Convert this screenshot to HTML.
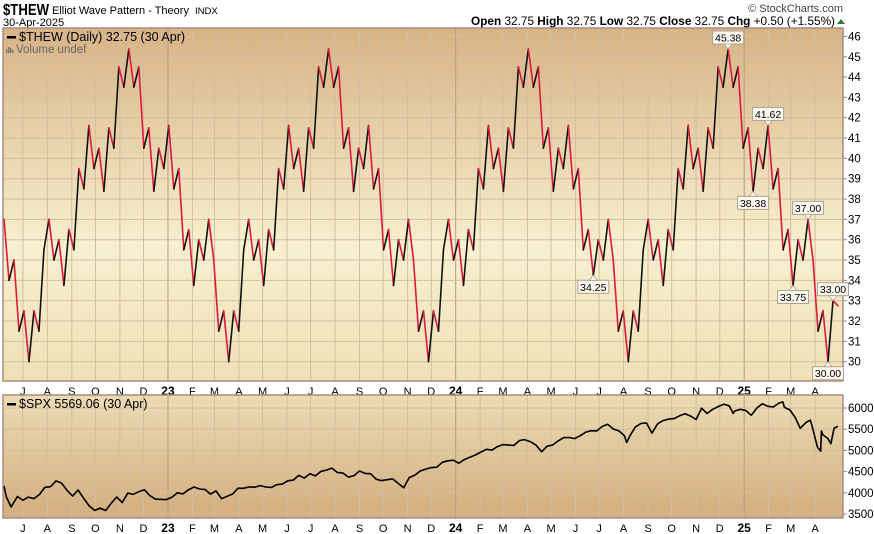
<!DOCTYPE html>
<html><head><meta charset="utf-8"><style>
body{margin:0;background:#fff;width:874px;height:534px;overflow:hidden;font-family:"Liberation Sans",sans-serif}
svg{display:block}
</style></head><body>
<svg id="c" width="874" height="534" xmlns="http://www.w3.org/2000/svg">
<defs>
<linearGradient id="gTop" x1="0" y1="0" x2="0" y2="1">
<stop offset="0" stop-color="#d7b385"/><stop offset="0.62" stop-color="#f7f0cf"/><stop offset="1" stop-color="#efe0b6"/>
</linearGradient>
<linearGradient id="gBot" x1="0" y1="0" x2="0" y2="1">
<stop offset="0" stop-color="#ecdcb3"/><stop offset="1" stop-color="#d2ad7e"/>
</linearGradient>
</defs>
<g>
<text x="3" y="15" font-size="16" font-weight="bold" fill="#000" textLength="46" lengthAdjust="spacingAndGlyphs">$THEW</text>
<text x="52" y="14" font-size="11" fill="#000">Elliot Wave Pattern - Theory <tspan font-size="9.5" dx="3">INDX</tspan></text>
<text x="3" y="26" font-size="11" fill="#000">30-Apr-2025</text>
<text x="843" y="12" font-size="11" fill="#444" text-anchor="end">© StockCharts.com</text>
<text x="835" y="25" font-size="11.8" fill="#000" text-anchor="end"><tspan font-weight="bold">Open</tspan> 32.75 <tspan font-weight="bold">High</tspan> 32.75 <tspan font-weight="bold">Low</tspan> 32.75 <tspan font-weight="bold">Close</tspan> 32.75 <tspan font-weight="bold">Chg</tspan> +0.50 (+1.55%)</text>
<path d="M837 24 L841 19 L845 24 Z" fill="#2e7d32"/>
</g>
<g id="topPanel"></g>
<g id="botPanel"></g>
</svg>
<script>
// ---- data ----
const thewValues = [37,34,35,31.5,32.5,30,
32.5,31.5,35.5,37,35,36,33.75,36.5,35.5,39.5,38.5,41.62,39.5,40.5,38.38,41.5,40.5,44.5,43.5,45.38,
43.5,44.5,40.5,41.5,38.38,40.5,39.5,41.62,38.5,39.5,35.5,36.5,33.75,36,35,37,35,31.5,32.5,30,
32.5,31.5,35.5,37,35,36,33.75,36.5,35.5,39.5,38.5,41.62,39.5,40.5,38.38,41.5,40.5,44.5,43.5,45.38,
43.5,44.5,40.5,41.5,38.38,40.5,39.5,41.62,38.5,39.5,35.5,36.5,33.75,36,35,37,35,31.5,32.5,30,
32.5,31.5,35.5,37,35,36,33.75,36.5,35.5,39.5,38.5,41.62,39.5,40.5,38.38,41.5,40.5,44.5,43.5,45.38,
43.5,44.5,40.5,41.5,38.38,40.5,39.5,41.62,38.5,39.5,35.5,36.5,34.25,36,35,37,35,31.5,32.5,30,
32.5,31.5,35.5,37,35,36,33.75,36.5,35.5,39.5,38.5,41.62,39.5,40.5,38.38,41.5,40.5,44.5,43.5,45.38,
43.5,44.5,40.5,41.5,38.38,40.5,39.5,41.62,38.5,39.5,35.5,36.5,33.75,36,35,37,35,31.5,32.5,30,
33,32.75];
const thewLabels = [[145,"45.38",1],[150,"38.38",-1],[153,"41.62",1],[158,"33.75",-1],[161,"37.00",1],[165,"30.00",-1],[166,"33.00",1],[118,"34.25",-1]];
const thewTicks = [30,31,32,33,34,35,36,37,38,39,40,41,42,43,44,45,46];
const spxDates = ["2022-06-07","2022-06-10","2022-06-16","2022-06-24","2022-07-01","2022-07-08","2022-07-15","2022-07-22","2022-07-29","2022-08-05","2022-08-12","2022-08-19","2022-08-26","2022-09-02","2022-09-09","2022-09-16","2022-09-23","2022-09-30","2022-10-07","2022-10-14","2022-10-21","2022-10-28","2022-11-04","2022-11-11","2022-11-18","2022-11-25","2022-12-02","2022-12-09","2022-12-16","2022-12-23","2022-12-30",
"2023-01-06","2023-01-13","2023-01-20","2023-01-27","2023-02-03","2023-02-10","2023-02-17","2023-02-24","2023-03-03","2023-03-10","2023-03-17","2023-03-24","2023-03-31","2023-04-07","2023-04-14","2023-04-21","2023-04-28","2023-05-05","2023-05-12","2023-05-19","2023-05-26","2023-06-02","2023-06-09","2023-06-16","2023-06-23","2023-06-30","2023-07-07","2023-07-14","2023-07-21","2023-07-28","2023-08-04","2023-08-11","2023-08-18","2023-08-25","2023-09-01","2023-09-08","2023-09-15","2023-09-22","2023-09-29","2023-10-06","2023-10-13","2023-10-20","2023-10-27","2023-11-03","2023-11-10","2023-11-17","2023-11-24","2023-12-01","2023-12-08","2023-12-15","2023-12-22","2023-12-29",
"2024-01-05","2024-01-12","2024-01-19","2024-01-26","2024-02-02","2024-02-09","2024-02-16","2024-02-23","2024-03-01","2024-03-08","2024-03-15","2024-03-22","2024-03-28","2024-04-05","2024-04-12","2024-04-19","2024-04-26","2024-05-03","2024-05-10","2024-05-17","2024-05-24","2024-05-31","2024-06-07","2024-06-14","2024-06-21","2024-06-28","2024-07-05","2024-07-12","2024-07-19","2024-07-26","2024-08-02","2024-08-05","2024-08-09","2024-08-16","2024-08-23","2024-08-30","2024-09-06","2024-09-13","2024-09-20","2024-09-27","2024-10-04","2024-10-11","2024-10-18","2024-10-25","2024-11-01","2024-11-08","2024-11-15","2024-11-22","2024-11-29","2024-12-06","2024-12-13","2024-12-18","2024-12-20","2024-12-27",
"2025-01-03","2025-01-10","2025-01-17","2025-01-24","2025-01-31","2025-02-07","2025-02-14","2025-02-19","2025-02-21","2025-02-28","2025-03-07","2025-03-13","2025-03-21","2025-03-26","2025-03-28","2025-04-04","2025-04-08","2025-04-09","2025-04-11","2025-04-17","2025-04-21","2025-04-25","2025-04-30"];
const spxValues = [4160,3901,3667,3912,3825,3899,3863,3962,4130,4145,4280,4228,4057,3924,4067,3873,3693,3586,3639,3583,3752,3901,3771,3993,3965,4026,4072,3934,3852,3845,3840,
3895,3999,3973,4071,4136,4090,4079,3970,4045,3862,3917,3971,4109,4105,4138,4133,4169,4136,4124,4191,4205,4282,4299,4410,4348,4450,4399,4505,4536,4582,4478,4464,4370,4406,4515,4457,4450,4320,4288,4308,4327,4224,4117,4358,4415,4514,4559,4595,4604,4719,4754,4770,
4697,4783,4840,4891,4959,5027,5006,5089,5137,5124,5117,5234,5254,5204,5123,4967,5100,5128,5223,5303,5305,5278,5347,5431,5465,5460,5567,5615,5505,5459,5346,5186,5344,5554,5634,5648,5408,5626,5703,5738,5751,5815,5864,5808,5728,5995,5870,5969,6032,6090,6051,5872,5930,5970,
5942,5827,5997,6101,6040,6026,6115,6144,6013,5955,5770,5522,5667,5712,5581,5074,4982,5457,5363,5283,5158,5525,5569];
const spxTicks = [3500,4000,4500,5000,5500,6000];
const monthLabels = ["J","A","S","O","N","D","23","F","M","A","M","J","J","A","S","O","N","D","24","F","M","A","M","J","J","A","S","O","N","D","25","F","M","A"];

// ---- layout ----
const NS="http://www.w3.org/2000/svg";
const X0=4, X1=843, XL=838;
const T0=Date.UTC(2022,5,7), T1=Date.UTC(2025,3,30);
function xDate(t){return X0+(t-T0)/(T1-T0)*(XL-X0);}
function xIdx(i){return X0+i*(XL-X0)/(thewValues.length-1);}
const TOPP={y0:28,y1:381}, BOTP={y0:395,y1:518};
function yT(v){return 361.7-(v-30)*20.33;}
function yB(v){return 408-(v-6000)*0.0424;}
function mk(tag,attrs,parent){const e=document.createElementNS(NS,tag);for(const k in attrs)e.setAttribute(k,attrs[k]);parent.appendChild(e);return e;}
const gTopP=document.getElementById('topPanel'), gBotP=document.getElementById('botPanel');

const months=[];
for(let k=0;k<monthLabels.length;k++){const t=Date.UTC(2022,6+k,1);months.push({t,lab:monthLabels[k]});}

function panel(g,P,grad,ticks,yf,fmt){
  const bg=mk('rect',{x:X0-1,y:P.y0,width:X1-X0+1,height:P.y1-P.y0,fill:grad},g);
  
  
  for(const m of months){
    const x=xDate(m.t);
    const yr=/\d/.test(m.lab);
    const l=mk('line',{x1:x,x2:x,y1:P.y0,y2:P.y1,stroke:yr?'#b89a80':'#d2bea0','stroke-width':1},g);
    
    
  }
  for(const v of ticks){
    const y=yf(v);
    const l=mk('line',{x1:X0-1,x2:X1,y1:y,y2:y,stroke:'#d2bea0','stroke-width':1},g);
    
    
    const tm=mk('line',{x1:X1,x2:X1+4,y1:y,y2:y,stroke:'#888'},g);
    
    
    const t=mk('text',{x:X1+5,y:y+4,'font-size':11.5,fill:'#000'},g);
    
    
    t.textContent=fmt(v);
  }
  const b=mk('rect',{x:X0-1,y:P.y0,width:X1-X0+1,height:P.y1-P.y0,fill:'none',stroke:'#a88c80','stroke-width':1.5},g);
  
  
  const ly=P.y1+14;
  for(const m of months){
    const x=xDate(m.t);
    const yr=/\d/.test(m.lab);
    const t=mk('text',{x:x,y:ly,'font-size':yr?12:11,'font-weight':yr?'bold':'normal','text-anchor':'middle',fill:'#000'},g);
    
    
    t.textContent=m.lab;
  }
}
panel(gTopP,TOPP,'url(#gTop)',thewTicks,yT,v=>String(v));
panel(gBotP,BOTP,'url(#gBot)',spxTicks,yB,v=>String(v));

for(let i=1;i<thewValues.length;i++){
  const a=thewValues[i-1],b=thewValues[i];
  const s=mk('line',{x1:xIdx(i-1),y1:yT(a),x2:xIdx(i),y2:yT(b),stroke:b>=a?'#111':'#e0183c','stroke-width':1.6,'stroke-linecap':'round'},gTopP);
  
  
}
for(const [i,txt,dir] of thewLabels){
  const x=xIdx(i), y=yT(thewValues[i]);
  const g=mk('g',{},gTopP);
  
  
  const w=31,h=13;
  const by=dir>0?y-5-h:y+5;
  mk('rect',{x:x-w/2,y:by,width:w,height:h,fill:'#fbf8f0',stroke:'#b0a090','stroke-width':1},g);
  const py=dir>0?by+h:by;
  mk('path',{d:`M${x-4} ${py} L${x} ${y} L${x+4} ${py} Z`,fill:'#fbf8f0',stroke:'#b0a090','stroke-width':0.8},g);
  const t=mk('text',{x:x,y:by+10.5,'font-size':10.5,'text-anchor':'middle',fill:'#000'},g);
  t.textContent=txt;
}
let d='';
spxDates.forEach((s,i)=>{const p=s.split('-');const t=Date.UTC(+p[0],+p[1]-1,+p[2]);d+=(i?'L':'M')+xDate(t).toFixed(1)+' '+yB(spxValues[i]).toFixed(1);});
const pl=mk('path',{d,fill:'none',stroke:'#000','stroke-width':1.6,'stroke-linejoin':'round'},gBotP);



function legend(g,y,txt,name){
  const r=mk('rect',{x:7,y:y-5,width:9,height:2.5,fill:'#000'},g);
  
  
  const t=mk('text',{x:19,y:y,'font-size':12.5,fill:'#000'},g);
  
  
  t.textContent=txt;
}
legend(gTopP,41,'$THEW (Daily) 32.75 (30 Apr)','thew-legend');
legend(gBotP,408,'$SPX 5569.06 (30 Apr)','spx-legend');
const vi=mk('g',{},gTopP);


[[6,4],[8,6],[10,5],[12,3]].forEach(([x,h])=>mk('rect',{x:x,y:53-h,width:1.5,height:h,fill:'#777'},vi));
const vt=mk('text',{x:16,y:53,'font-size':11.5,fill:'#666'},gTopP);


vt.textContent='Volume undef';
</script>
</body></html>
